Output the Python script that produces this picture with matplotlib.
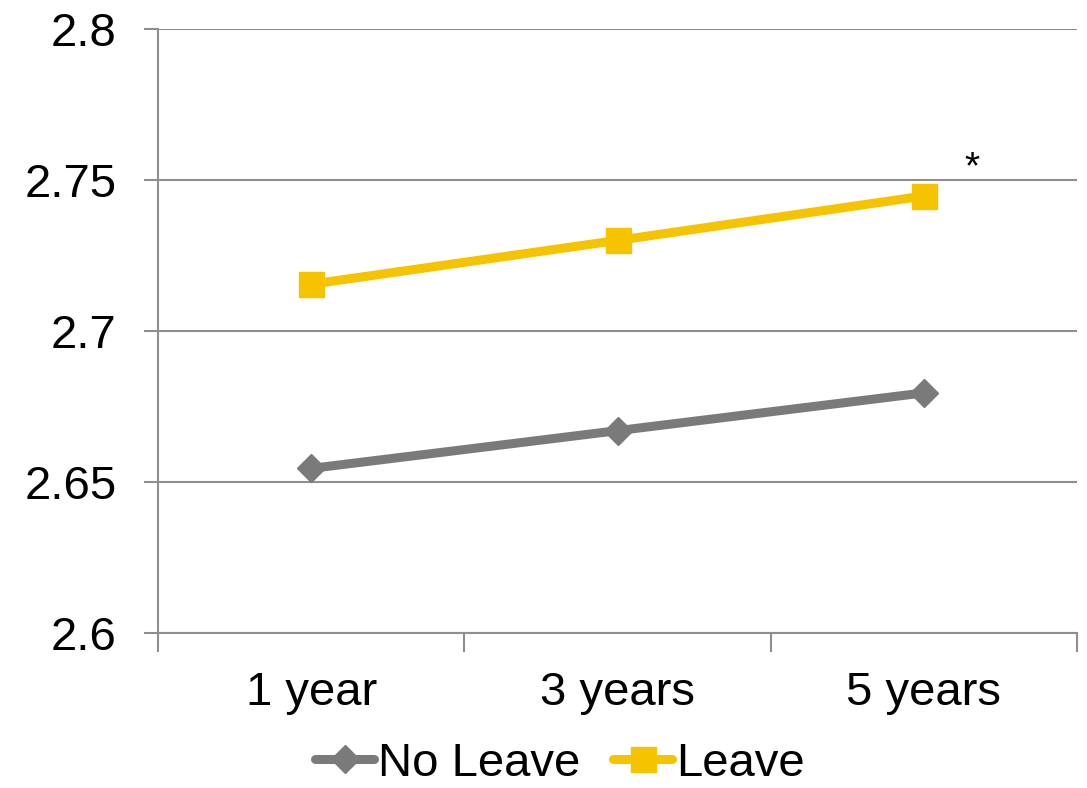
import matplotlib.pyplot as plt

plt.rcParams['font.family'] = ['Liberation Sans', 'DejaVu Sans']

periods = ['1 year', '3 years', '5 years']
no_leave = [2.6545, 2.667, 2.6795]
leave = [2.7155, 2.730, 2.7447]
y_ticks = [2.6, 2.65, 2.7, 2.75, 2.8]
y_labels = ['2.6', '2.65', '2.7', '2.75', '2.8']

grey = '#7a7a7a'
gold = '#f5c300'
axis_grey = '#8e8e8e'

fig = plt.figure(figsize=(10.87, 7.88), dpi=100)
ax = fig.add_axes([0.1454, 0.1967, 0.8454, 0.7665])

x = range(len(periods))
ax.plot(x, no_leave, color=grey, lw=6.5, marker='D', markersize=14,
        solid_capstyle='round', label='No Leave')
ax.plot(x, leave, color=gold, lw=6.5, marker='s', markersize=18,
        solid_capstyle='round', label='Leave')

ax.text(2.157, 2.754, '*', fontsize=28, ha='center', va='center')

ax.set_xlim(-0.5, 2.5)
ax.set_ylim(2.6, 2.8)
ax.set_yticks(y_ticks)
ax.set_yticklabels(y_labels)
ax.set_xticks(x)
ax.set_xticklabels(periods)
ax.set_xticks([-0.5, 0.5, 1.5, 2.5], minor=True)

ax.yaxis.grid(True, color=axis_grey, lw=1.5)
ax.set_axisbelow(True)
for side in ['top', 'right']:
    ax.spines[side].set_visible(False)
for side in ['left', 'bottom']:
    ax.spines[side].set_color(axis_grey)
    ax.spines[side].set_linewidth(1.5)

ax.tick_params(axis='y', which='major', labelsize=34, length=10, width=1.5,
               color=axis_grey, pad=20)
ax.tick_params(axis='x', which='major', labelsize=34, length=0, pad=27)
ax.tick_params(axis='x', which='minor', length=14, width=1.5, color=axis_grey)

fig.legend(loc='center', bbox_to_anchor=(0.515, 0.031), ncol=2,
           frameon=False, fontsize=34, handlelength=1.25, handletextpad=0.08,
           columnspacing=0.7, borderpad=0)

fig.savefig('out.png', dpi=100)
